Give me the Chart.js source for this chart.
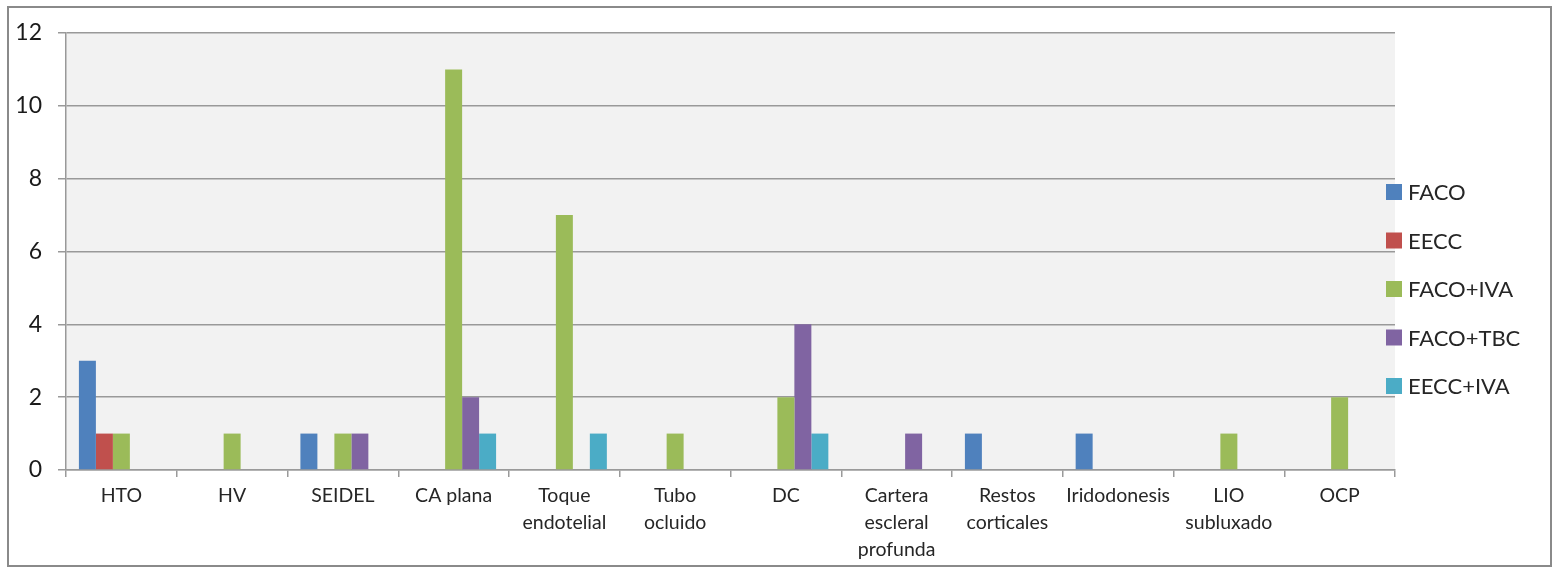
<!DOCTYPE html>
<html>
<head>
<meta charset="utf-8">
<script src="https://cdn.jsdelivr.net/npm/chart.js@4/dist/chart.umd.min.js"></script>
<style>
  html, body { margin: 0; padding: 0; background: #fff; }
  #wrap { width: 1559px; height: 569px; position: relative; }
</style>
</head>
<body>
<div id="wrap"><canvas id="c" width="1559" height="569"></canvas></div>
<script>
// Complicaciones por técnica quirúrgica
const categories = [
  'HTO', 'HV', 'SEIDEL', 'CA plana', ['Toque', 'endotelial'], ['Tubo', 'ocluido'],
  'DC', ['Cartera', 'escleral', 'profunda'], ['Restos', 'corticales'], 'Iridodonesis',
  ['LIO', 'subluxado'], 'OCP'
];
const seriesNames = ['FACO', 'EECC', 'FACO+IVA', 'FACO+TBC', 'EECC+IVA'];
const faco    = [3, 0, 1, 0, 0, 0, 0, 0, 1, 1, 0, 0];
const eecc    = [1, 0, 0, 0, 0, 0, 0, 0, 0, 0, 0, 0];
const facoIva = [1, 1, 1, 11, 7, 1, 2, 0, 0, 0, 1, 2];
const facoTbc = [0, 0, 1, 2, 0, 0, 4, 1, 0, 0, 0, 0];
const eeccIva = [0, 0, 0, 1, 1, 0, 1, 0, 0, 0, 0, 0];
const yTicks  = [0, 2, 4, 6, 8, 10, 12];

const colors = ['#4F81BD', '#C0504D', '#9BBB59', '#8064A2', '#4BACC6'];
const values = [faco, eecc, facoIva, facoTbc, eeccIva];

const FONT = 'Lato, "Open Sans", "Liberation Sans", sans-serif';

// Frame, plot background and legend drawn around the chart area
const decor = {
  id: 'decor',
  beforeDraw(chart) {
    const { ctx, chartArea: a } = chart;
    ctx.save();
    ctx.fillStyle = '#ffffff';
    ctx.fillRect(0, 0, chart.width, chart.height);
    ctx.strokeStyle = '#8a8a8a';
    ctx.lineWidth = 2;
    ctx.strokeRect(8, 7, 1543, 559);
    ctx.fillStyle = '#f2f2f2';
    ctx.fillRect(a.left, a.top, a.right - a.left, a.bottom - a.top);
    ctx.restore();
  },
  afterDraw(chart) {
    const { ctx, chartArea: a } = chart;
    ctx.save();
    ctx.font = '22px ' + FONT;
    ctx.textBaseline = 'middle';
    const x0 = a.right - 9;
    const y0 = 192;
    const step = 48.5;
    chart.data.datasets.forEach((ds, i) => {
      const y = y0 + i * step;
      ctx.fillStyle = ds.backgroundColor;
      ctx.fillRect(x0, y - 8, 16, 16);
      ctx.fillStyle = '#262626';
      ctx.fillText(ds.label, x0 + 22, y + 1);
    });
    ctx.restore();
  }
};

new Chart(document.getElementById('c'), {
  type: 'bar',
  data: {
    labels: categories,
    datasets: seriesNames.map((name, i) => ({
      label: name,
      data: values[i],
      backgroundColor: colors[i],
      borderWidth: 0,
      barPercentage: 1.0,
      categoryPercentage: 0.767
    }))
  },
  options: {
    responsive: false,
    animation: false,
    devicePixelRatio: 1,
    layout: { padding: { left: 0, top: 33, right: 164, bottom: 0 } },
    plugins: {
      legend: { display: false },
      tooltip: { enabled: false }
    },
    scales: {
      x: {
        offset: true,
        grid: {
          offset: true,
          drawOnChartArea: false,
          drawTicks: true,
          tickLength: 7,
          color: '#9a9a9a',
          lineWidth: 1.5
        },
        border: { color: '#9a9a9a', width: 1.5 },
        ticks: {
          color: '#262626',
          font: { family: FONT, size: 19.5, lineHeight: 1.38 },
          padding: 5,
          maxRotation: 0,
          autoSkip: false
        },
        afterFit(scale) { scale.height = 569 - 470; }
      },
      y: {
        min: 0,
        max: 12,
        afterBuildTicks(scale) { scale.ticks = yTicks.map(v => ({ value: v })); },
        grid: {
          color: '#999999',
          lineWidth: 1.5,
          drawTicks: true,
          tickLength: 8
        },
        border: { color: '#999999', width: 1.5 },
        ticks: {
          color: '#1a1a1a',
          font: { family: FONT, size: 23 },
          padding: 16
        },
        afterFit(scale) { scale.width = 66; }
      }
    }
  },
  plugins: [decor]
});
</script>
</body>
</html>
